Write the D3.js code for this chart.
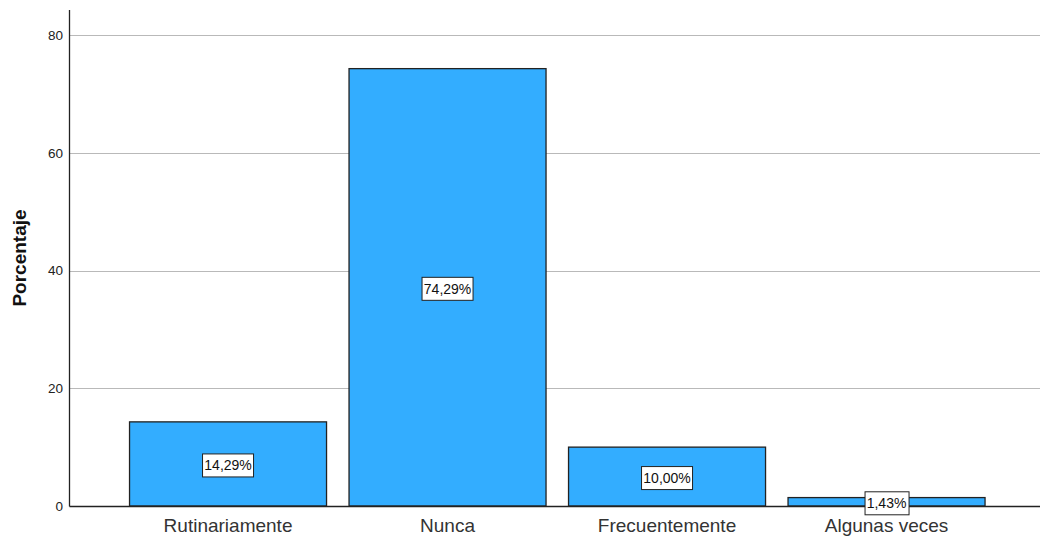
<!DOCTYPE html>
<html>
<head>
<meta charset="utf-8">
<script src="https://cdn.jsdelivr.net/npm/d3@7/dist/d3.min.js"></script>
<style>
  html, body { margin: 0; padding: 0; background: #fff; }
  svg { display: block; font-family: "Liberation Sans", Arial, sans-serif; }
</style>
</head>
<body>
<svg id="chart" width="1041" height="541"></svg>
<script>
// Percentages per response category
const categories = ["Rutinariamente", "Nunca", "Frecuentemente", "Algunas veces"];
const percentages = [14.29, 74.29, 10.00, 1.43];
const yTicks = [0, 20, 40, 60, 80];
const yTitle = "Porcentaje";

const svg = d3.select("#chart");
const plotLeft = 70, plotRight = 1040, plotTop = 10, plotBottom = 506;

const x = d3.scaleBand()
  .domain(categories)
  .range([plotLeft, plotRight])
  .paddingInner(0.1025)
  .paddingOuter(0.2608)
  .align(0.52);

const y = d3.scaleLinear()
  .domain([0, 84.25])
  .range([plotBottom, plotTop]);

// horizontal grid lines
svg.append("g")
  .selectAll("line")
  .data(yTicks.filter(d => d > 0))
  .join("line")
  .attr("x1", plotLeft).attr("x2", plotRight)
  .attr("y1", d => Math.round(y(d)) + 0.5)
  .attr("y2", d => Math.round(y(d)) + 0.5)
  .attr("stroke", "#b9b9b9")
  .attr("stroke-width", 1);

// bars
svg.append("g")
  .selectAll("rect")
  .data(percentages)
  .join("rect")
  .attr("x", (d, i) => x(categories[i]))
  .attr("width", x.bandwidth())
  .attr("y", d => y(d))
  .attr("height", d => plotBottom - y(d))
  .attr("fill", "#33adff")
  .attr("stroke", "#222")
  .attr("stroke-width", 1.3);

// y axis
const yAxis = svg.append("g")
  .attr("transform", `translate(${plotLeft},0)`)
  .call(d3.axisLeft(y).tickValues(yTicks).tickSize(0).tickPadding(7).tickFormat(d3.format("d")));
yAxis.select(".domain").remove();
yAxis.selectAll("text")
  .attr("font-size", 13.5)
  .attr("fill", "#222")
  .attr("font-family", "Liberation Sans, Arial, sans-serif");

svg.append("line")
  .attr("x1", plotLeft - 0.5).attr("x2", plotLeft - 0.5)
  .attr("y1", plotTop).attr("y2", plotBottom + 0.5)
  .attr("stroke", "#222").attr("stroke-width", 1.3);

svg.append("line")
  .attr("x1", plotLeft - 0.5).attr("x2", plotRight)
  .attr("y1", plotBottom + 0.5).attr("y2", plotBottom + 0.5)
  .attr("stroke", "#222").attr("stroke-width", 1.3);

// category labels
svg.append("g")
  .selectAll("text")
  .data(categories)
  .join("text")
  .attr("x", d => x(d) + x.bandwidth() / 2)
  .attr("y", 532)
  .attr("text-anchor", "middle")
  .attr("font-size", 19)
  .attr("fill", "#333")
  .text(d => d);

// y title
svg.append("text")
  .attr("transform", `translate(26,${(plotTop + plotBottom) / 2}) rotate(-90)`)
  .attr("text-anchor", "middle")
  .attr("font-size", 19)
  .attr("font-weight", "bold")
  .attr("fill", "#111")
  .text(yTitle);

// value labels in boxes at bar mid-height
const fmt = v => d3.format(".2f")(v).replace(".", ",") + "%";
const labels = svg.append("g")
  .selectAll("g")
  .data(percentages)
  .join("g")
  .attr("transform", (d, i) => `translate(${x(categories[i]) + x.bandwidth() / 2},${(y(d) + plotBottom) / 2 + 1.5})`);

labels.each(function(d) {
  const g = d3.select(this);
  const t = g.append("text")
    .attr("text-anchor", "middle")
    .attr("dy", "0.36em")
    .attr("font-size", 14)
    .attr("fill", "#111")
    .text(fmt(d));
  const bb = t.node().getBBox();
  g.insert("rect", "text")
    .attr("x", Math.round(bb.x - 2) + 0.5)
    .attr("y", -11.5)
    .attr("width", Math.round(bb.width + 4))
    .attr("height", 23)
    .attr("fill", "#fff")
    .attr("stroke", "#222")
    .attr("stroke-width", 1);
});
</script>
</body>
</html>
